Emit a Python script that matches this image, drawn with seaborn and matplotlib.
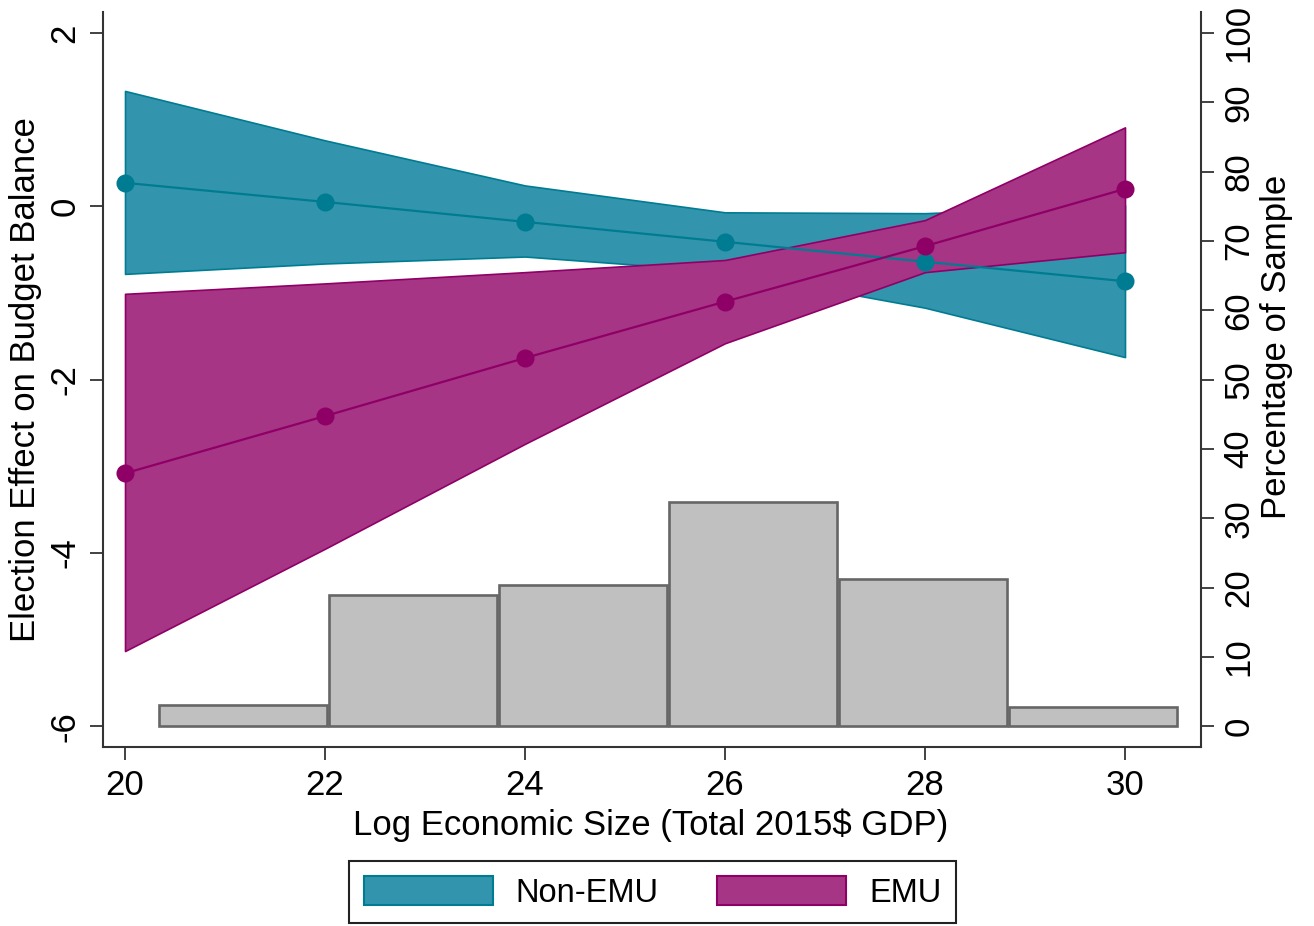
import matplotlib
matplotlib.use("Agg")
import matplotlib.pyplot as plt
from matplotlib.patches import Patch
import numpy as np
import pandas as pd
import seaborn as sns

# ---------------- data ----------------
gdp_log = [20, 22, 24, 26, 28, 30]
nonemu_effect = [0.27, 0.05, -0.18, -0.41, -0.64, -0.865]
nonemu_upper = [1.33, 0.76, 0.24, -0.07, -0.08, 0.01]
nonemu_lower = [-0.78, -0.66, -0.58, -0.75, -1.17, -1.74]
emu_effect = [-3.08, -2.42, -1.75, -1.10, -0.46, 0.20]
emu_upper = [-1.01, -0.89, -0.76, -0.62, -0.16, 0.91]
emu_lower = [-5.13, -3.95, -2.74, -1.58, -0.76, -0.53]
hist_edges = [20.33, 22.03, 23.73, 25.43, 27.13, 28.83, 30.53]
hist_pct = [3.1, 18.9, 20.4, 32.4, 21.2, 2.8]
series_names = ["Non-EMU", "EMU"]
x_ticks = [20, 22, 24, 26, 28, 30]
y_ticks = [-6, -4, -2, 0, 2]
pct_ticks = [0, 10, 20, 30, 40, 50, 60, 70, 80, 90, 100]
x_title = "Log Economic Size (Total 2015$ GDP)"
y_title = "Election Effect on Budget Balance"
pct_title = "Percentage of Sample"

# ---------------- style ----------------
sns.set_theme(style="white")
plt.rcParams["font.family"] = ["Liberation Sans", "DejaVu Sans"]
plt.rcParams["axes.unicode_minus"] = False
plt.rcParams["text.color"] = "black"
plt.rcParams["axes.labelcolor"] = "black"
plt.rcParams["xtick.color"] = "black"
plt.rcParams["ytick.color"] = "black"

TEAL_FILL, TEAL_LINE = "#3394AD", "#007C92"
PURP_FILL, PURP_LINE = "#A63586", "#8F0066"
SPINE = "#333333"
FS = 25

fig = plt.figure(figsize=(13.14, 9.26), dpi=100)
ax = fig.add_axes([0.0784, 0.193, 0.8356, 0.794])
ax2 = ax.twinx()
ax.set_zorder(ax2.get_zorder() + 1)
ax.patch.set_visible(False)

df = pd.DataFrame({
    "x": gdp_log * 2,
    "effect": nonemu_effect + emu_effect,
    "group": [series_names[0]] * len(gdp_log) + [series_names[1]] * len(gdp_log),
})

# confidence bands
ax.fill_between(gdp_log, nonemu_lower, nonemu_upper, facecolor=TEAL_FILL,
                edgecolor=TEAL_LINE, linewidth=1.2, zorder=1)
ax.fill_between(gdp_log, emu_lower, emu_upper, facecolor=PURP_FILL,
                edgecolor=PURP_LINE, linewidth=1.2, zorder=2)

# point estimates
sns.lineplot(data=df, x="x", y="effect", hue="group",
             palette={series_names[0]: TEAL_LINE, series_names[1]: PURP_LINE},
             marker="o", markersize=13, markeredgewidth=0, linewidth=1.6,
             legend=False, ax=ax, zorder=3)

# histogram of sample on the right axis
centers = [(a + b) / 2 for a, b in zip(hist_edges[:-1], hist_edges[1:])]
sns.histplot(x=centers, weights=hist_pct, bins=hist_edges, ax=ax2,
             color="#C0C0C0", edgecolor="#666666", linewidth=1.9, alpha=1,
             shrink=0.99)

# ---------------- axes ----------------
ax.set_xlim(19.78, 30.76)
ax.set_ylim(-6.24, 2.24)
ax2.set_ylim(-3.0, 103.0)

ax.set_xticks(x_ticks)
ax.set_yticks(y_ticks)
ax2.set_yticks(pct_ticks)

for a in (ax, ax2):
    for s in a.spines.values():
        s.set_color(SPINE)
        s.set_linewidth(1.5)
    a.spines["top"].set_visible(False)
ax.spines["right"].set_visible(False)
ax2.spines["left"].set_visible(False)
ax2.spines["bottom"].set_visible(False)

ax.tick_params(axis="x", direction="out", length=9.5, width=1.3, color=SPINE,
               labelsize=FS, pad=6, bottom=True, labelcolor="black")
ax.tick_params(axis="y", direction="out", length=9.5, width=1.3, color=SPINE,
               labelsize=FS, pad=6, left=True, labelrotation=90, labelcolor="black")
ax2.tick_params(axis="y", direction="out", length=9.5, width=1.3, color=SPINE,
                labelsize=FS, pad=6, right=True, labelrotation=90, labelcolor="black")
plt.setp(ax.get_yticklabels(), va="center")
plt.setp(ax2.get_yticklabels(), va="center")

ax.set_xlabel(x_title, fontsize=FS, color="black")
ax.set_ylabel(y_title, fontsize=FS, color="black")
ax2.set_ylabel(pct_title, fontsize=FS, color="black")
ax.xaxis.set_label_coords(0.499, -0.083)
ax.yaxis.set_label_coords(-0.056, 0.5)
ax2.yaxis.set_label_coords(1.054, 0.545)

# ---------------- legend ----------------
handles = [
    Patch(facecolor=TEAL_FILL, edgecolor=TEAL_LINE, linewidth=1.5),
    Patch(facecolor=PURP_FILL, edgecolor=PURP_LINE, linewidth=1.5),
]
leg = fig.legend(handles, series_names, loc="lower center",
                 bbox_to_anchor=(0.4966, 0.003), borderaxespad=0, ncol=2,
                 fontsize=23.5, frameon=True, fancybox=False,
                 edgecolor="#222222", framealpha=1,
                 handlelength=3.95, handleheight=1.02, handletextpad=0.7,
                 columnspacing=1.8, borderpad=0.45)
leg.get_frame().set_linewidth(1.5)
for t in leg.get_texts():
    t.set_color("black")

fig.savefig("out.png", dpi=100)
